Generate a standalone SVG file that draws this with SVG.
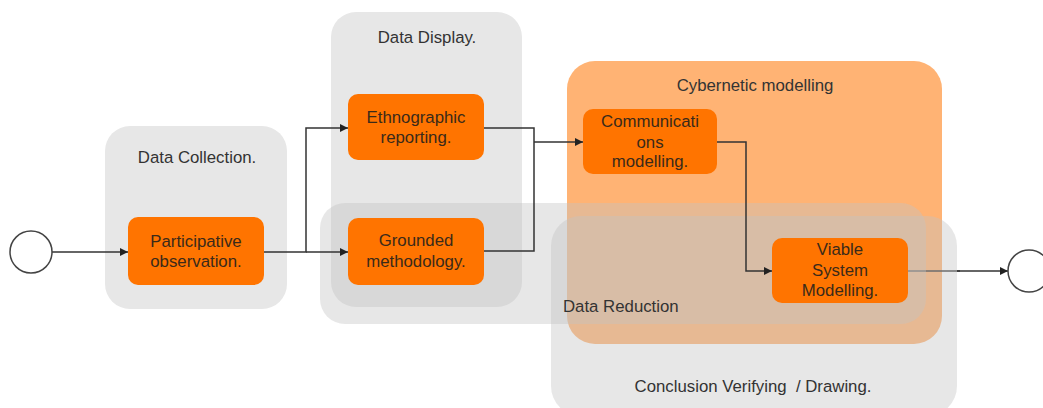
<svg xmlns="http://www.w3.org/2000/svg" width="1043" height="408" viewBox="0 0 1043 408">
  <style>
    .lane { fill: #e7e7e7; }
    .lane-t { fill: #c3c3c3; fill-opacity: 0.4; }
    .cyber { fill: #ffb374; }
    .task { fill: #ff7400; }
    .label { font-family: "Liberation Sans", Arial, sans-serif; font-size: 16.8px; fill: #333333; text-anchor: middle; }
    .tasktext { font-family: "Liberation Sans", Arial, sans-serif; font-size: 16.8px; fill: #3a2a1a; text-anchor: middle; }
    .flow { fill: none; stroke: #333333; stroke-width: 1.5; }
    .event { fill: #ffffff; stroke: #444444; stroke-width: 1.5; }
  </style>
  <defs>
    <marker id="arrow" viewBox="0 0 10 10" refX="10" refY="5" markerWidth="10" markerHeight="8" markerUnits="userSpaceOnUse" orient="auto">
      <path d="M0,0 L10,5 L0,10 Z" fill="#222222"/>
    </marker>
  </defs>

  <rect width="1043" height="408" fill="#ffffff"/>

  <!-- phase containers -->
  <g id="data-collection">
    <rect class="lane" x="105" y="126" width="182" height="183" rx="25"/>
    <text class="label" x="197" y="163">Data Collection.</text>
  </g>
  <g id="data-display">
    <rect class="lane" x="331" y="12" width="191" height="295" rx="25"/>
    <text class="label" x="427" y="43">Data Display.</text>
  </g>
  <g id="cybernetic-modelling">
    <rect class="cyber" x="567" y="61" width="375" height="283" rx="28"/>
    <text class="label" x="755" y="91">Cybernetic modelling</text>
  </g>

  <!-- start of the exit flow, seen through the translucent conclusion panel -->
  <line class="flow" x1="908" y1="271" x2="960" y2="271"/>

  <!-- translucent phase panels -->
  <g id="data-reduction">
    <rect class="lane-t" x="320" y="203" width="606" height="121" rx="25"/>
  </g>
  <g id="conclusion">
    <rect class="lane-t" x="551" y="216" width="406" height="200" rx="30"/>
    <text class="label" x="753" y="392" xml:space="preserve">Conclusion Verifying  / Drawing.</text>
  </g>
  <g id="data-reduction-label">
    <text class="label" x="563" y="312" style="text-anchor:start">Data Reduction</text>
  </g>

  <!-- connectors -->
  <g id="connectors">
    <line class="flow" x1="52" y1="252" x2="128" y2="252" marker-end="url(#arrow)"/>
    <polyline class="flow" points="264,252 306,252 306,128 348,128" marker-end="url(#arrow)"/>
    <line class="flow" x1="306" y1="252" x2="348" y2="252" marker-end="url(#arrow)"/>
    <polyline class="flow" points="484,128 534,128 534,251 484,251"/>
    <line class="flow" x1="534" y1="142" x2="583" y2="142" marker-end="url(#arrow)"/>
    <polyline class="flow" points="717,142 746,142 746,271 772,271" marker-end="url(#arrow)"/>
    <line class="flow" x1="957" y1="271" x2="1008" y2="271" marker-end="url(#arrow)"/>
  </g>

  <!-- events -->
  <g id="start">
    <circle class="event" cx="31" cy="252" r="21"/>
  </g>
  <g id="end">
    <circle class="event" cx="1029" cy="271" r="21"/>
  </g>

  <!-- tasks -->
  <g id="participative-observation">
    <rect class="task" x="128" y="217" width="136" height="68" rx="10"/>
    <text class="tasktext" x="196" y="247">Participative</text>
    <text class="tasktext" x="196" y="267">observation.</text>
  </g>
  <g id="ethnographic-reporting">
    <rect class="task" x="348" y="94" width="136" height="66" rx="10"/>
    <text class="tasktext" x="416" y="123">Ethnographic</text>
    <text class="tasktext" x="416" y="143">reporting.</text>
  </g>
  <g id="grounded-methodology">
    <rect class="task" x="348" y="218" width="136" height="67" rx="10"/>
    <text class="tasktext" x="416" y="246">Grounded</text>
    <text class="tasktext" x="416" y="267">methodology.</text>
  </g>
  <g id="communications-modelling">
    <rect class="task" x="583" y="109" width="134" height="65" rx="10"/>
    <text class="tasktext" x="650" y="127">Communicati</text>
    <text class="tasktext" x="650" y="148">ons</text>
    <text class="tasktext" x="650" y="167">modelling.</text>
  </g>
  <g id="viable-system-modelling">
    <rect class="task" x="772" y="238" width="136" height="65" rx="10"/>
    <text class="tasktext" x="840" y="255">Viable</text>
    <text class="tasktext" x="840" y="276">System</text>
    <text class="tasktext" x="840" y="296">Modelling.</text>
  </g>
</svg>
